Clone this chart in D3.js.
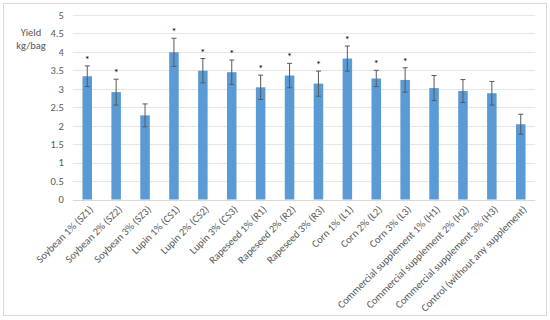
<!DOCTYPE html>
<html><head><meta charset="utf-8">
<script src="https://cdn.jsdelivr.net/npm/d3@7"></script>
<style>body{margin:0;background:#fff}svg{display:block;font-family:Carlito,Lato,sans-serif}</style>
</head><body><svg width="550" height="320"></svg>
<script>
const categories = ["Soybean 1% (SZ1)","Soybean 2% (SZ2)","Soybean 3% (SZ3)","Lupin 1% (CS1)","Lupin 2% (CS2)","Lupin 3% (CS3)","Rapeseed 1% (R1)","Rapeseed 2% (R2)","Rapeseed 3% (R3)","Corn 1% (L1)","Corn 2% (L2)","Corn 3% (L3)","Commercial supplement 1% (H1)","Commercial supplement 2% (H2)","Commercial supplement 3% (H3)","Control (without any supplement)"];
const yieldValues = [3.34,2.91,2.28,3.99,3.49,3.45,3.04,3.36,3.14,3.82,3.28,3.24,3.02,2.94,2.88,2.04];
const errors = [0.28,0.35,0.31,0.38,0.33,0.33,0.33,0.33,0.34,0.34,0.22,0.33,0.34,0.31,0.32,0.27];
const significant = [true,true,false,true,true,true,true,true,true,true,true,true,false,false,false,false];
const yTicks = [0,0.5,1,1.5,2,2.5,3,3.5,4,4.5,5];

const svg = d3.select("svg");
svg.append("rect").attr("x",3.5).attr("y",3.5).attr("width",543).attr("height",312)
  .attr("fill","#fff").attr("stroke","#d9d9d9");

const x = d3.scaleBand().domain(categories).range([72.8,535.2]).paddingInner(0.67).paddingOuter(0.335);
const y = d3.scaleLinear().domain([0,5]).range([199.5,15]);

const grid = svg.append("g");
grid.selectAll("line").data(yTicks).join("line")
  .attr("x1",72.8).attr("x2",535.2)
  .attr("y1",d=>Math.round(y(d))+0.5).attr("y2",d=>Math.round(y(d))+0.5)
  .attr("stroke",d=>d===0?"#d9d9d9":"#e6e6e6").attr("stroke-width",1);

const yAxis = svg.append("g").attr("transform","translate(72.8,0)")
  .call(d3.axisLeft(y).tickValues(yTicks).tickSize(0).tickPadding(9).tickFormat(d=>String(d)));
yAxis.select(".domain").remove();
yAxis.selectAll("text").attr("fill","#595959").attr("font-size","10.5px").attr("font-family","Carlito,Lato,sans-serif");

svg.append("text").attr("x",31).attr("y",36).attr("text-anchor","middle").attr("fill","#595959").attr("font-size","10.5px").text("Yield");
svg.append("text").attr("x",31).attr("y",49).attr("text-anchor","middle").attr("fill","#595959").attr("font-size","10.5px").text("kg/bag");

svg.append("g").selectAll("rect").data(categories).join("rect")
  .attr("x",d=>x(d)).attr("width",x.bandwidth())
  .attr("y",(d,i)=>y(yieldValues[i])).attr("height",(d,i)=>y(0)-y(yieldValues[i]))
  .attr("fill","#5b9bd5");

const eb = svg.append("g").attr("stroke","#595959").attr("stroke-width",1);
categories.forEach((c,i)=>{
  const cx = x(c)+x.bandwidth()/2;
  const t = y(yieldValues[i]+errors[i]), b = y(yieldValues[i]-errors[i]);
  eb.append("line").attr("x1",cx).attr("x2",cx).attr("y1",t).attr("y2",b);
  eb.append("line").attr("x1",cx-2.5).attr("x2",cx+2.5).attr("y1",t).attr("y2",t);
  eb.append("line").attr("x1",cx-2.5).attr("x2",cx+2.5).attr("y1",b).attr("y2",b);
  if(significant[i]){
    svg.append("text").attr("x",cx).attr("y",t-3).attr("text-anchor","middle")
      .attr("font-size","11px").attr("fill","#000").text("*");
  }
});

const xl = svg.append("g");
categories.forEach((c,i)=>{
  const cx = x(c)+x.bandwidth()/2;
  xl.append("text").attr("transform",`translate(${cx+4},${y(0)+8}) rotate(-45)`)
    .attr("text-anchor","end").attr("dy","0.35em").attr("fill","#595959").attr("font-size","10.5px").text(c);
});
</script></body></html>
